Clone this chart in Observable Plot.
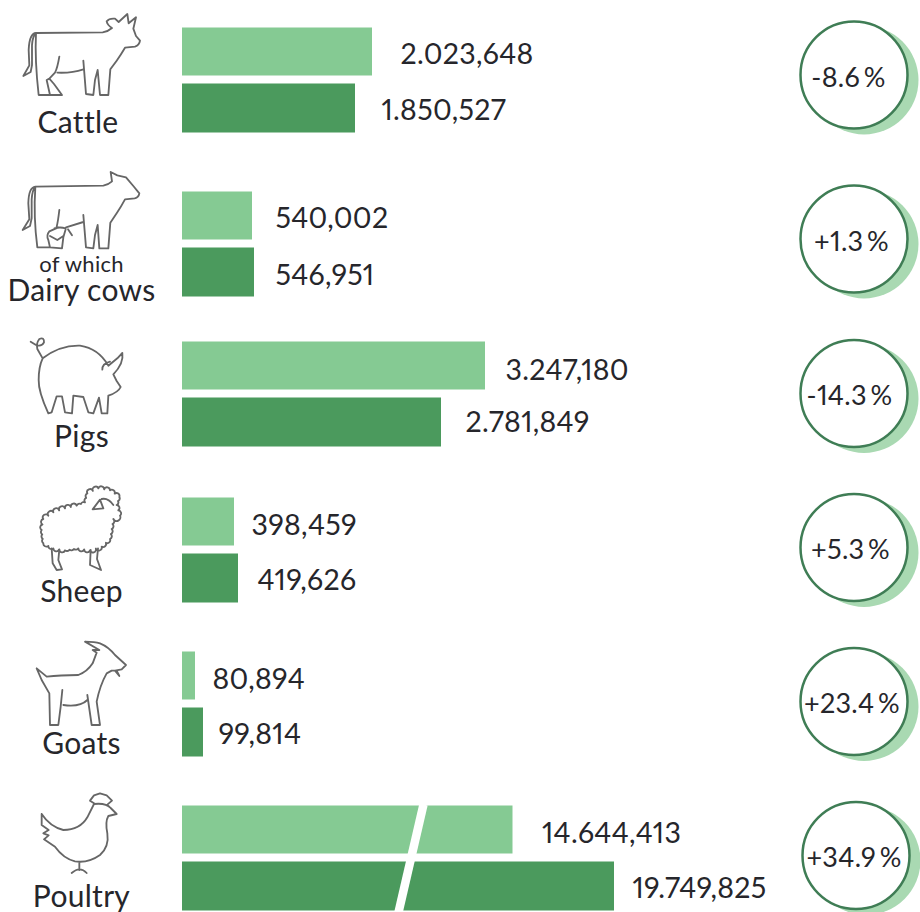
<!DOCTYPE html>
<html>
<head>
<meta charset="utf-8">
<script src="https://cdn.jsdelivr.net/npm/d3@7"></script>
<script src="https://cdn.jsdelivr.net/npm/@observablehq/plot@0.6"></script>
<style>html,body{margin:0;padding:0;background:#fff}svg{display:block}svg text{font-variant-numeric:proportional-nums;font-feature-settings:"pnum" 1;letter-spacing:.3px}</style>
</head>
<body>
<div id="chart"></div>
<script>
const categories = ["Cattle", "Dairy cows", "Pigs", "Sheep", "Goats", "Poultry"];
const earlierValues = [2023648, 540002, 3247180, 398459, 80894, 14644413];
const laterValues = [1850527, 546951, 2781849, 419626, 99814, 19749825];
const earlierLabels = ["2.023,648", "540,002", "3.247,180", "398,459", "80,894", "14.644,413"];
const laterLabels = ["1.850,527", "546,951", "2.781,849", "419,626", "99,814", "19.749,825"];
const changes = ["-8.6\u2009%", "+1.3\u2009%", "-14.3\u2009%", "+5.3\u2009%", "+23.4\u2009%", "+34.9\u2009%"];

const rows = categories.map((category, row) => ({
  category, row,
  earlier: earlierValues[row], later: laterValues[row],
  earlierLabel: earlierLabels[row], laterLabel: laterLabels[row],
  change: changes[row]
}));

const LIGHT = "#85ca93", DARK = "#4b9a5d", RING = "#3f7d55", SHADE = "#a9d9b2", INK = "#26262b", LINE = "#666666";
const FONT = "Lato, sans-serif";

// Scale breakpoints: the source chart's bars are not proportional and poultry is on a broken axis.
const xDomain = [0, 80894, 99814, 398459, 419626, 540002, 546951, 1850527, 2023648, 2781849, 3247180, 14644413, 19749825];
const xRange = [182, 195, 203, 234, 238, 252, 254, 355, 372, 441, 485, 512.5, 614];
const yRange = [80, 244, 394, 550, 704, 858];

// Icon outlines, each drawn in a 3x local space.
const icons = [
  {cropY: 0, d: "M108,99 L308,97 Q325,94 336,84 Q322,75 320,64 Q328,54 345,56 L356,66 L382,42 L386,70 L408,52 L400,86 L408,108 L420,122 Q418,136 405,140 L375,143 Q362,165 350,182 L331,208 L325,285 L300,285 L293,210 L285,240 L280,285 L258,282 L250,182 M250,208 Q215,220 172,218 M178,170 Q172,205 165,218 L148,236 L162,252 L186,285 L150,285 L140,240 L148,236 M108,99 Q104,180 116,285 L150,285 M108,99 Q88,100 86,150 L88,196 L70,228 L92,216 L96,195 L96,135 Q98,108 108,99"},
  {cropY: 160, d: "M106,80 L310,77 Q325,74 336,64 L332,36 L352,46 L378,52 L400,78 L418,100 Q416,112 404,115 L375,118 Q362,142 350,160 L331,188 L325,265 L298,265 L293,195 L285,225 L280,265 L258,262 L250,165 M250,186 L198,202 M175,202 L148,214 Q138,226 145,240 L150,262 L186,265 L190,232 L197,208 M163,205 Q180,200 197,205 M204,208 L216,226 M190,228 L172,240 L150,228 M178,150 Q174,185 170,200 M106,80 Q100,170 112,262 L150,262 M106,80 Q86,82 85,130 L88,178 L68,210 L90,198 L95,175 L95,118 Q97,90 106,80"},
  {cropY: 325, d: "M128,100 Q180,60 240,62 Q295,70 325,122 L352,100 L367,84 Q372,115 340,148 L350,168 L362,186 Q355,202 325,212 L322,265 L305,265 L297,218 L280,265 L265,262 L250,216 L220,212 L216,265 L195,262 L186,214 L170,214 L155,262 L145,265 Q115,200 116,165 Q116,125 128,100 M307,134 Q306,116 330,110 M128,100 L112,72 Q108,55 118,42 Q133,36 132,52 Q125,66 108,60 L92,50 M297,218 L305,265"},
  {cropY: 475, cloud: [[125,165],[130,132],[160,112],[195,100],[230,92],[255,82],[262,55],[295,40],[330,46],[358,66],[350,90],[360,122],[340,132],[335,162],[330,192],[305,215],[270,226],[235,220],[195,226],[160,220],[130,205],[125,165]], d: "M278,103 L300,74 L310,100 L278,103 M305,72 Q325,68 340,90 M155,220 L158,265 L170,285 L186,283 L175,255 L178,224 M272,225 L270,270 L303,285 L291,252 L294,220"},
  {cropY: 630, d: "M110,115 L140,140 Q180,135 235,135 Q262,125 278,100 L290,68 L278,60 L298,60 L255,35 Q285,35 300,40 Q325,50 345,75 L378,105 L365,118 L345,122 L358,138 L350,122 L335,122 L320,130 Q300,165 290,215 L300,285 L275,285 L262,195 M262,210 Q240,232 190,225 M187,180 L182,230 L175,285 L150,285 L148,190 L125,150 L110,115"},
  {cropY: 780, d: "M125,102 Q150,140 190,150 Q240,150 262,112 Q272,92 282,72 Q318,68 332,84 L350,102 L325,108 Q315,125 322,160 Q328,200 300,225 Q265,250 225,244 Q190,235 165,200 Q150,190 132,178 L146,166 L130,160 L146,150 L125,135 L125,102 M282,70 L270,62 L282,46 L300,40 L320,46 L336,62 L322,74 M238,246 L238,270 M215,279 Q228,268 238,268 Q250,268 260,279"}
];

// Scalloped outline through a list of points, for the sheep's fleece.
function cloudPath(points) {
  let path = `M${points[0]}`;
  for (let i = 1; i < points.length; i++) {
    const [x0, y0] = points[i - 1], [x1, y1] = points[i];
    const steps = Math.max(1, Math.round(Math.hypot(x1 - x0, y1 - y0) / 16));
    for (let s = 1; s <= steps; s++) {
      const x = x0 + (x1 - x0) * s / steps, y = y0 + (y1 - y0) * s / steps;
      path += `A9,9 0 0 1 ${x},${y}`;
    }
  }
  return path;
}

function iconMark(index, scales) {
  const g = d3.create("svg:g").attr("fill", "none").attr("stroke", LINE)
    .attr("stroke-width", 5.5).attr("stroke-linejoin", "round").attr("stroke-linecap", "round");
  icons.forEach((icon, row) => {
    const dy = icon.cropY - yRange[row];
    const group = g.append("g").attr("transform", `translate(0,${scales.y(row) + dy}) scale(${1 / 3})`);
    if (icon.cloud) group.append("path").attr("d", cloudPath(icon.cloud));
    group.append("path").attr("d", icon.d);
  });
  return g.node();
}

// Per-row fine placement of the labels and rings.
const earlierGap = [28, 23, 20, 17, 17, 29];
const laterGap = [26, 21, 24, 19, 15, 18];
const earlierDy = [-26, -26, -24, -25, -25, -25];
const laterDy = [30, 31, 28, 30, 30, 30];
const nameDy = [43, 47, 43, 42, 40, 39];
const ringDy = [-5.5, -5.5, -1, -3, -3, -3];
const ringDx = [853.5, 853.5, 853.5, 853.5, 853.5, 855.5];
const changeDx = [848, 851, 849, 850, 851.5, 853.5];

const textOpts = {fontFamily: FONT, fill: INK, stroke: "none", lineAnchor: "middle"};
const perRow = (fn) => rows.map((d, i) => fn([d], i));

const chart = Plot.plot({
  width: 920, height: 912,
  margin: 0, marginTop: 0, marginRight: 0, marginBottom: 0, marginLeft: 0,
  style: {background: "#fff", fontFamily: FONT},
  x: {type: "linear", domain: xDomain, range: xRange, axis: null},
  y: {type: "linear", domain: d3.range(6), range: yRange, axis: null},
  marks: [
    Plot.rect(rows, {x1: () => 0, x2: "earlier", y1: "row", y2: "row", dy: -28.5, insetTop: -24, insetBottom: -24, fill: LIGHT}),
    Plot.rect(rows, {x1: () => 0, x2: "later", y1: "row", y2: "row", dy: 28, insetTop: -24.5, insetBottom: -24.5, fill: DARK}),
    // White slanted break across the poultry bars
    Plot.link([{top: 2584000, bottom: 2309000, y1: 5 - 54 / 154, y2: 5 + 54 / 154}], {
      x1: "top", x2: "bottom", y1: "y1", y2: "y2", stroke: "#fff", strokeWidth: 8.5
    }),
    ...perRow((d, i) => Plot.text(d, {...textOpts, x: "earlier", y: "row", text: "earlierLabel", textAnchor: "start", dx: earlierGap[i], dy: earlierDy[i], fontSize: 28.5})),
    ...perRow((d, i) => Plot.text(d, {...textOpts, x: "later", y: "row", text: "laterLabel", textAnchor: "start", dx: laterGap[i], dy: laterDy[i], fontSize: 28.5})),
    iconMark,
    ...perRow((d, i) => Plot.text(d, {...textOpts, frameAnchor: "left", dx: i === 0 ? 77.5 : 81, y: "row", dy: nameDy[i], text: "category", textAnchor: "middle", fontSize: 30})),
    Plot.text(["of which"], {...textOpts, frameAnchor: "left", dx: 81, y: () => 1, dy: 20, textAnchor: "middle", fontSize: 22}),
    ...perRow((d, i) => Plot.dot(d, {frameAnchor: "left", dx: ringDx[i] + 10, y: "row", dy: ringDy[i] + 5, r: 54.5, fill: SHADE, stroke: "none"})),
    ...perRow((d, i) => Plot.dot(d, {frameAnchor: "left", dx: ringDx[i], y: "row", dy: ringDy[i], r: 53.5, fill: "#fff", stroke: RING, strokeWidth: 2.5})),
    ...perRow((d, i) => Plot.text(d, {...textOpts, frameAnchor: "left", dx: changeDx[i], y: "row", dy: ringDy[i] + 3, text: "change", textAnchor: "middle", fontSize: 27}))
  ]
});
document.getElementById("chart").append(chart);
</script>
</body>
</html>
